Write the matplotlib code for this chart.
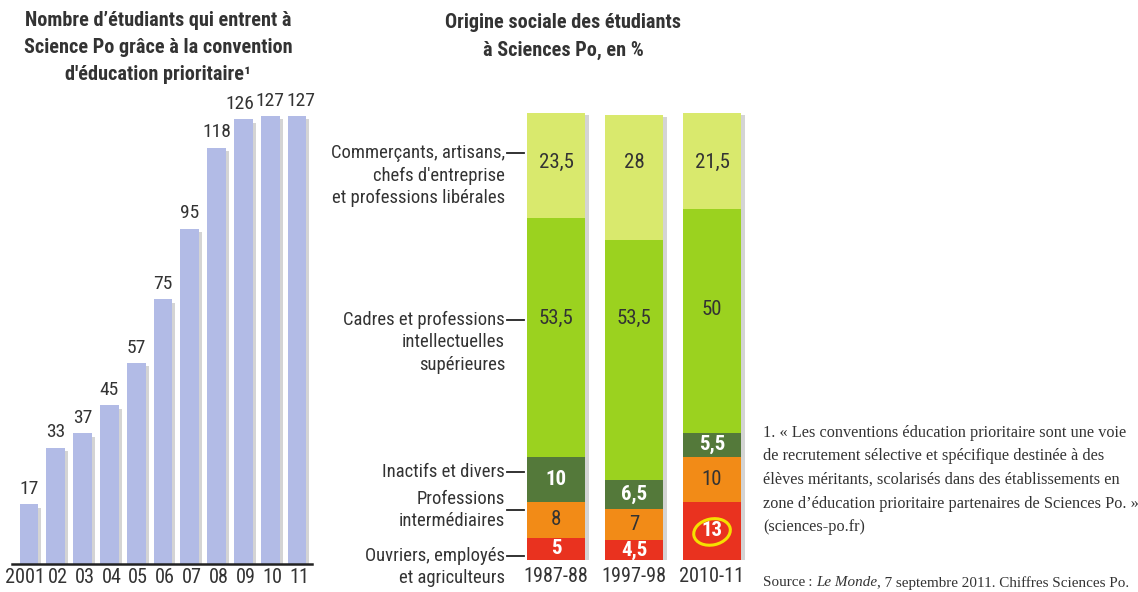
import matplotlib
matplotlib.use("Agg")
import matplotlib.pyplot as plt
from matplotlib import font_manager
from matplotlib.patches import Ellipse
from matplotlib.transforms import IdentityTransform, ScaledTranslation

# ---------------- data ----------------
years = ["2001", "02", "03", "04", "05", "06", "07", "08", "09", "10", "11"]
students = [17, 33, 37, 45, 57, 75, 95, 118, 126, 127, 127]

periods = ["1987-88", "1997-98", "2010-11"]
ouvriers = [5, 4.5, 13]
intermediaires = [8, 7, 10]
inactifs = [10, 6.5, 5.5]
cadres = [53.5, 53.5, 50]
commercants = [23.5, 28, 21.5]

category_labels = [
    ["Commerçants, artisans,", "chefs d'entreprise", "et professions libérales"],
    ["Cadres et professions", "intellectuelles", "supérieures"],
    ["Inactifs et divers"],
    ["Professions", "intermédiaires"],
    ["Ouvriers, employés", "et agriculteurs"],
]

title_left = ["Nombre d\u2019étudiants qui entrent à",
              "Science Po grâce à la convention",
              "d'éducation prioritaire\u00b9"]
title_right = ["Origine sociale des étudiants", "à Sciences Po, en %"]
footnote = ["1. « Les conventions éducation prioritaire sont une voie",
            "de recrutement sélective et spécifique destinée à des",
            "élèves méritants, scolarisés dans des établissements en",
            "zone d\u2019éducation prioritaire partenaires de Sciences Po. »",
            "(sciences-po.fr)"]

# ---------------- style ----------------
W, H = 1138, 592
avail = {f.name for f in font_manager.fontManager.ttflist}
narrow = [f for f in ["Liberation Sans Narrow", "Roboto Condensed", "Open Sans Condensed"] if f in avail]
SANS = narrow + ["Liberation Sans", "DejaVu Sans"]
K = 1.0 if narrow else 0.82
SERIF = ["Liberation Serif", "DejaVu Serif"]
TXT = "#333333"

C_BLUE = "#b2bbe6"
C_LIGHT = "#d9e96d"
C_GREEN = "#9bd21f"
C_DARK = "#54793a"
C_ORANGE = "#f28b17"
C_RED = "#e9321f"
C_SHADOW = "#d4d4d4"

fig = plt.figure(figsize=(W / 100, H / 100), dpi=100)
fig.patch.set_facecolor("white")


def fx(x):
    return x / W


def fy(y):
    return 1 - y / H


# ---------------- left chart ----------------
ax1 = fig.add_axes([fx(12), 28 / H, 300 / W, 494 / H])
ax1.set_facecolor("none")
xs = list(range(len(years)))
ax1.bar([x + 0.11 for x in xs], [v - 1.0 for v in students], width=0.7,
        color=C_SHADOW, zorder=1)
ax1.bar(xs, students, width=0.7, color=C_BLUE, zorder=2)
n = len(xs)
for x, v in zip(xs, students):
    # spread the crowded labels of the last three bars slightly apart
    nudge = -2.5 if x == n - 3 else (2.5 if x == n - 1 else 0)
    ax1.annotate(str(v), xy=(x, v + 1.8), xytext=(nudge, 0),
                 textcoords="offset points", ha="center", va="bottom",
                 fontsize=14 * K, family=SANS, color=TXT)
ax1.set_xlim(-0.634, 10.56)
ax1.set_ylim(0, 140)
ax1.set_xticks(xs)
ax1.set_xticklabels(years, fontsize=14.6 * K, family=SANS, color=TXT)
ax1.tick_params(axis="x", length=0, pad=3)
lbls = ax1.get_xticklabels()
lbls[0].set_transform(lbls[0].get_transform() +
                      ScaledTranslation(-4 / 100, 0, fig.dpi_scale_trans))
for lb in lbls[1:]:
    lb.set_transform(lb.get_transform() +
                     ScaledTranslation(2 / 100, 0, fig.dpi_scale_trans))
ax1.set_yticks([])
for s in ["left", "right", "top"]:
    ax1.spines[s].set_visible(False)
ax1.spines["bottom"].set_linewidth(1.8)
ax1.spines["bottom"].set_color("#222222")

for i, line in enumerate(title_left):
    fig.text(fx(158), fy(20 + i * 27.5), line, ha="center", va="center",
             fontsize=14.6 * K, weight="bold", family=SANS, color=TXT)

# ---------------- right chart ----------------
ax2 = fig.add_axes([fx(510), 32 / H, 250 / W, 447 / H])
ax2.set_facecolor("none")
ax2.set_xlim(-0.59, 2.615)
ax2.set_ylim(0, 100)
px = list(range(len(periods)))
series = [ouvriers, intermediaires, inactifs, cadres, commercants]
colors = [C_RED, C_ORANGE, C_DARK, C_GREEN, C_LIGHT]
txtcol = ["white", TXT, "white", TXT, TXT]
txtw = ["bold", "normal", "bold", "normal", "normal"]
totals = [sum(s[i] for s in series) for i in px]
ax2.bar([p + 0.05 for p in px], [t - 0.5 for t in totals], width=0.74,
        color=C_SHADOW, zorder=1)
bottoms = [0.0] * len(periods)
for k, (vals, col) in enumerate(zip(series, colors)):
    ax2.bar(px, vals, bottom=bottoms, width=0.74, color=col, zorder=2)
    for i, v in enumerate(vals):
        lab = ("%g" % v).replace(".", ",")
        yc = bottoms[i] + v / 2
        if k == 4:
            yc = 89
        elif k == 3:
            yc = 54 if i < 2 else 56
        ax2.text(i, yc, lab, ha="center", va="center", fontsize=15 * K,
                 family=SANS, color=txtcol[k], weight=txtw[k], zorder=4)
    bottoms = [b + v for b, v in zip(bottoms, vals)]

ax2.set_xticks(px)
ax2.set_xticklabels(periods, fontsize=14.6 * K, family=SANS, color=TXT)
ax2.tick_params(axis="x", length=0, pad=5)
ax2.set_yticks([])
for s in ax2.spines.values():
    s.set_visible(False)

# category labels with leader lines
cat_y = [91, 53.7, 19.7, 11.2, 0.9]
cat_anchor = [0, 0, 0, 0.5, 0]
tr = ax2.get_yaxis_transform()
for lines, y, anc in zip(category_labels, cat_y, cat_anchor):
    ax2.plot([-0.012, 0.056], [y, y], transform=tr, color="#222222", lw=1.3,
             clip_on=False, zorder=3)
    for j, line in enumerate(lines):
        ax2.annotate(line, xy=(-0.02, y), xycoords=tr,
                     xytext=(0, -(j - anc) * 16.2), textcoords="offset points",
                     ha="right", va="center", fontsize=13.4 * K, family=SANS,
                     color=TXT, annotation_clip=False)

for i, line in enumerate(title_right):
    fig.text(fx(563), fy(22 + i * 28), line, ha="center", va="center",
             fontsize=14.6 * K, weight="bold", family=SANS, color=TXT)

# highlight ellipse around the 2010-11 workers value
cx, cy = ax2.transData.transform((2, ouvriers[2] / 2))
fig.add_artist(Ellipse((cx, cy - 1), 37, 26, angle=12, fill=False,
                       edgecolor="#f5e100", lw=2.2, transform=IdentityTransform(),
                       zorder=10))

# ---------------- footnote ----------------
for i, line in enumerate(footnote):
    fig.text(fx(763), fy(433 + i * 23.5), line, ha="left", va="center",
             fontsize=11.7, family=SERIF, color=TXT)

renderer = fig.canvas.get_renderer()
xcur = fx(763)
for piece, style in [("Source\u2009: ", "normal"), ("Le Monde", "italic"),
                     (", 7 septembre 2011. Chiffres Sciences Po.", "normal")]:
    t = fig.text(xcur, fy(583), piece, ha="left", va="center", fontsize=10.9,
                 family=SERIF, style=style, color=TXT)
    bb = t.get_window_extent(renderer=renderer)
    xcur = bb.x1 / W

fig.savefig("out.png", dpi=100)
